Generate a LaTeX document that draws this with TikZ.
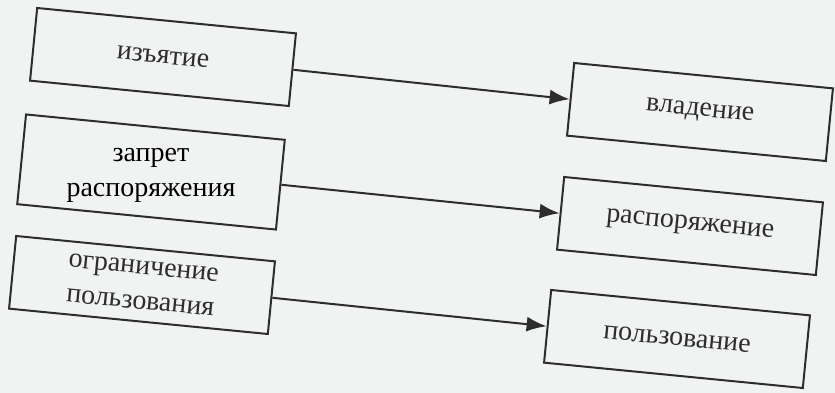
\documentclass[tikz,border=0pt]{standalone}
\usepackage{fontspec}
\setmainfont{Liberation Serif}
\usetikzlibrary{arrows.meta,positioning}
\definecolor{inkgray}{RGB}{45,45,45}
\definecolor{papergray}{RGB}{241,242,242}

\begin{document}
\begin{tikzpicture}[x=1pt, y=-1pt,
  box/.style={draw=inkgray, line width=2pt, minimum width=260pt, minimum height=73pt,
    inner sep=2pt, rotate=-5.6, align=center, text=inkgray,
    font=\rmfamily\fontsize{28}{35}\selectfont},
  arrow/.style={draw=inkgray, line width=2pt, -{Latex[length=20pt,width=15pt]}}]

%scanned page with its margins
\useasboundingbox (0,0) rectangle (835,393);
\fill[papergray] (0,0) rectangle (835,393);

%left column: measures
\node[box] (l1) at (163,57) {изъятие};
\node[box] (l2) at (151,172) {\rotatebox{5.6}{\color{black}\begin{tabular}{@{}c@{}}запрет\\распоряжения\end{tabular}}};
\node[box] (l3) at (142,285) {ограничение\\пользования};

%right column: powers
\node[box] (r1) at (700,112) {владение};
\node[box] (r2) at (690,226) {распоряжение};
\node[box] (r3) at (677,339) {пользование};

%each measure hits one power
\foreach \k in {1,2,3} {
    \draw[arrow] (l\k.east) -- (r\k.west);
}

\end{tikzpicture}
\end{document}
